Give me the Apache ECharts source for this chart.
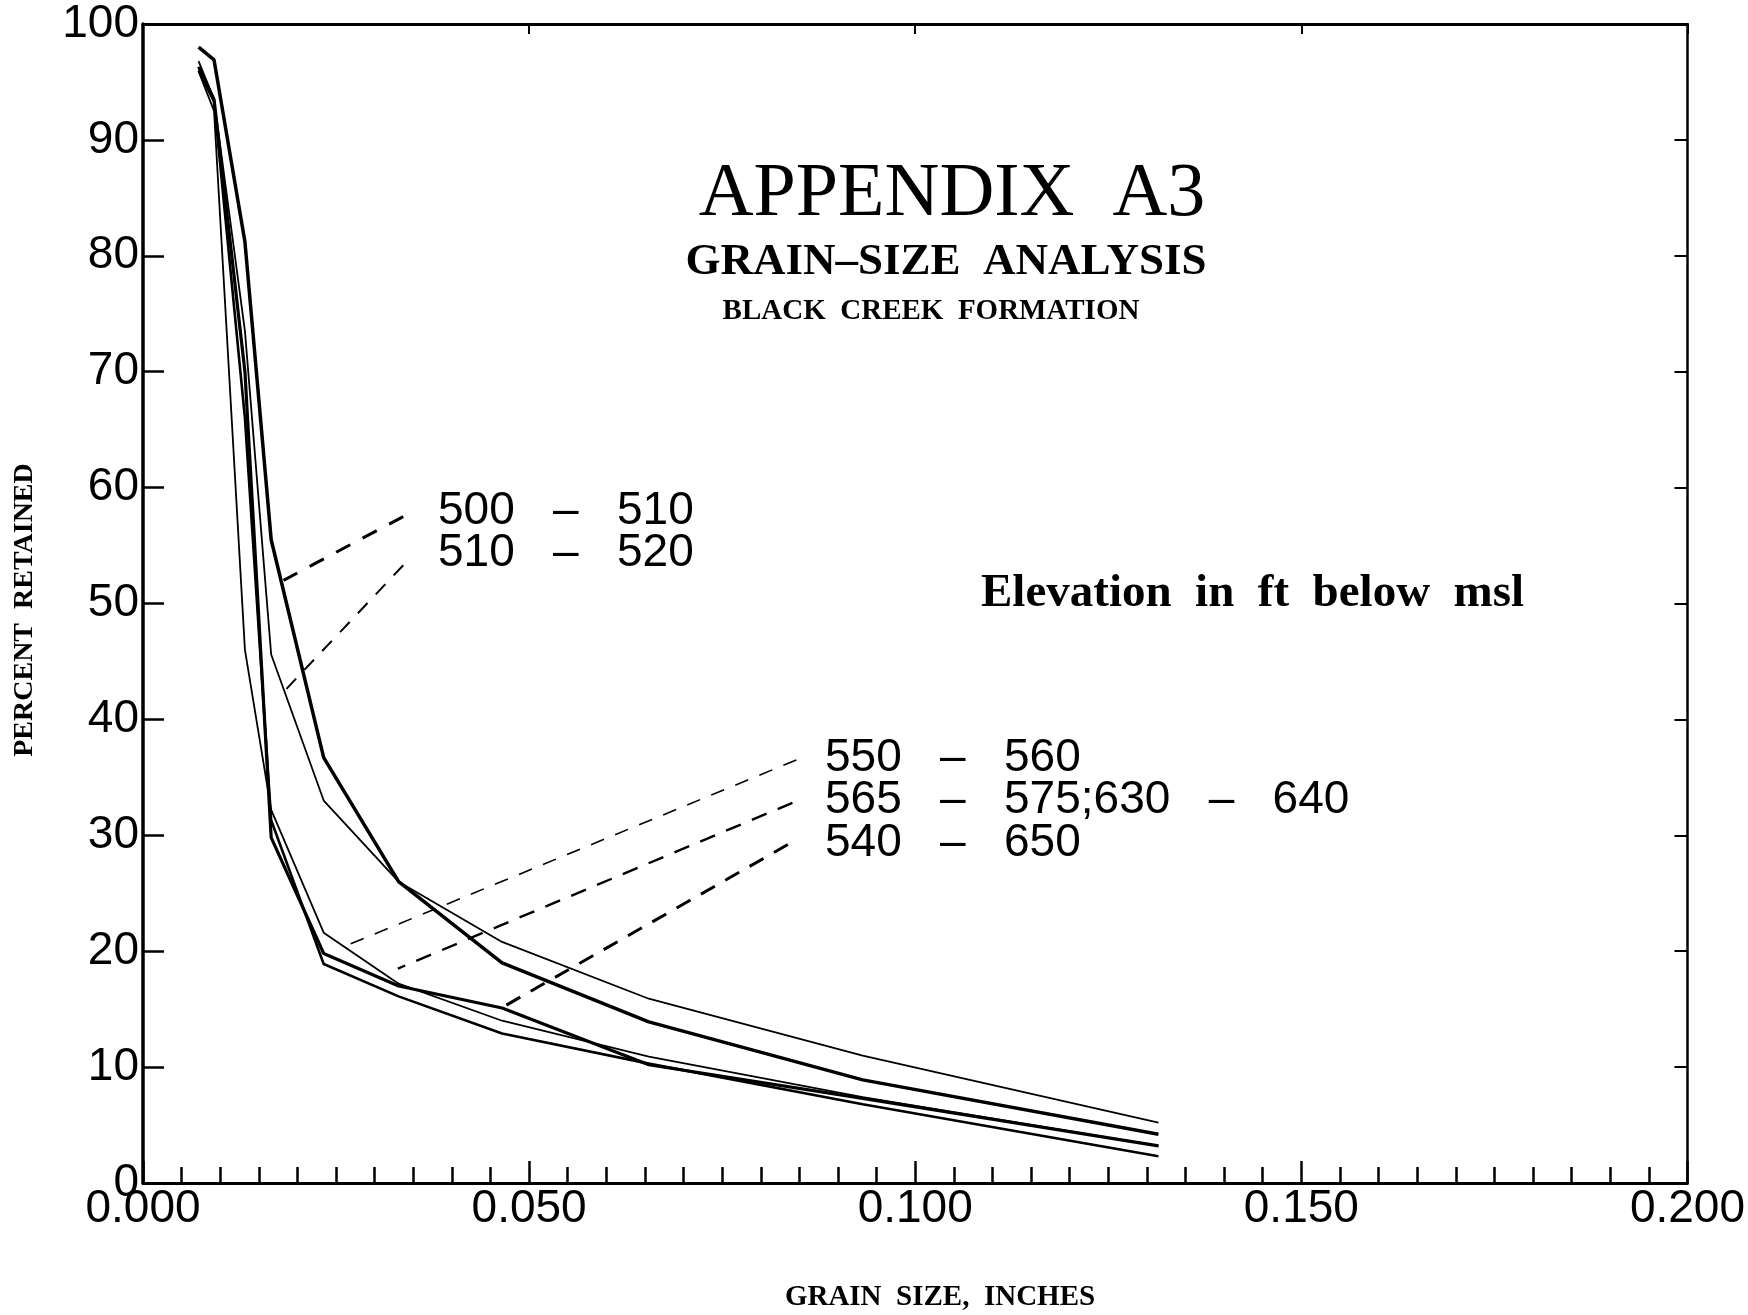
<!DOCTYPE html>
<html>
<head>
<meta charset="utf-8">
<script src="https://cdn.jsdelivr.net/npm/echarts@6/dist/echarts.min.js"></script>
<style>
html,body{margin:0;padding:0;background:#fff;}
#chart{width:1748px;height:1315px;}
</style>
</head>
<body>
<div id="chart"></div>
<script>
// Grain size (inches) of the sieve points
const grainSize = [0.0072, 0.0092, 0.0132, 0.0166, 0.0234, 0.0331, 0.0465, 0.0655, 0.0932, 0.1315];
// Percent retained per sample (elevation interval, ft below msl)
const pct500_510 = [98.0, 96.9, 81.2, 55.5, 36.7, 26.0, 19.0, 13.9, 8.9, 4.2];
const pct510_520 = [96.8, 93.5, 73.5, 45.6, 33.0, 26.0, 20.8, 15.9, 11.0, 5.2];
const pct550_560 = [95.9, 92.5, 46.0, 32.2, 21.6, 17.2, 14.0, 10.9, 7.4, 3.2];
const pct565_640 = [96.0, 93.3, 66.0, 31.3, 18.9, 16.1, 12.9, 10.3, 6.8, 2.3];
const pct540_650 = [96.3, 93.5, 70.0, 29.8, 19.8, 17.0, 15.1, 10.2, 7.3, 3.2];

// Leader lines (data units): [labelEnd, curveEnd]
const leader500_510 = [[0.0337, 57.5], [0.0182, 52.0]];
const leader510_520 = [[0.0337, 53.3], [0.0181, 42.3]];
const leader550_560 = [[0.0846, 36.5], [0.0264, 20.5]];
const leader565_640 = [[0.0841, 32.8], [0.0330, 18.5]];
const leader540_650 = [[0.0835, 29.2], [0.0464, 15.1]];

// Axis ticks
const xTickMin = 0, xTickMax = 0.2, xTickStep = 0.05;
const yTickMin = 0, yTickMax = 100, yTickStep = 10;

const sampleLabels = ['500 – 510', '510 – 520', '550 – 560', '565 – 575;630 – 640', '540 – 650'];

function pairs(xs, ys) { return xs.map((x, i) => [x, ys[i]]); }

const chart = echarts.init(document.getElementById('chart'), null, {renderer: 'canvas'});
const black = '#000';
const tickFont = 'Liberation Sans, Arial, sans-serif';
const serif = 'Liberation Serif, Times New Roman, serif';

function curve(name, ys, w) {
  return {
    name: name, type: 'line', data: pairs(grainSize, ys), showSymbol: false, symbol: 'none',
    lineStyle: {color: black, width: w}, silent: true, animation: false, z: 3
  };
}
function leader(pts, w, dash) {
  return {
    type: 'line', data: pts, showSymbol: false, symbol: 'none',
    lineStyle: {color: black, width: w, type: dash}, silent: true, animation: false, z: 2
  };
}

const option = {
  backgroundColor: '#fff',
  animation: false,
  grid: {left: 143, right: 54, top: 24, bottom: 132, containLabel: false},
  xAxis: [
    {
      type: 'value', min: xTickMin, max: xTickMax, interval: xTickStep, position: 'bottom',
      axisLine: {show: true, onZero: false, lineStyle: {color: black, width: 3}},
      axisTick: {show: true, inside: true, length: 22, lineStyle: {color: black, width: 2.5}},
      minorTick: {show: true, splitNumber: 10, length: 16, lineStyle: {color: black, width: 2.5}},
      splitLine: {show: false},
      axisLabel: {formatter: v => v.toFixed(3), fontSize: 46, fontFamily: tickFont, color: black, margin: 3}
    },
    {
      type: 'value', min: xTickMin, max: xTickMax, interval: xTickStep, position: 'top',
      axisLine: {show: true, onZero: false, lineStyle: {color: black, width: 3}},
      axisTick: {show: true, inside: true, length: 10, lineStyle: {color: black, width: 2}},
      splitLine: {show: false}, axisLabel: {show: false}
    }
  ],
  yAxis: [
    {
      type: 'value', min: yTickMin, max: yTickMax, interval: yTickStep, position: 'left',
      axisLine: {show: true, onZero: false, lineStyle: {color: black, width: 3.5}},
      axisTick: {show: true, inside: true, length: 21, lineStyle: {color: black, width: 2.5}},
      splitLine: {show: false},
      axisLabel: {fontSize: 46, fontFamily: tickFont, color: black, margin: 4}
    },
    {
      type: 'value', min: yTickMin, max: yTickMax, interval: yTickStep, position: 'right',
      axisLine: {show: true, onZero: false, lineStyle: {color: black, width: 2.5}},
      axisTick: {show: true, inside: true, length: 13, lineStyle: {color: black, width: 2}},
      splitLine: {show: false}, axisLabel: {show: false}
    }
  ],
  series: [
    curve(sampleLabels[0], pct500_510, 3.5),
    curve(sampleLabels[1], pct510_520, 1.8),
    curve(sampleLabels[2], pct550_560, 1.8),
    curve(sampleLabels[3], pct565_640, 2.6),
    curve(sampleLabels[4], pct540_650, 3.2),
    leader(leader500_510, 3, [16, 14]),
    leader(leader510_520, 2, [14, 12]),
    leader(leader550_560, 1.6, [14, 12]),
    leader(leader565_640, 2.4, [16, 12]),
    leader(leader540_650, 3, [16, 12])
  ],
  graphic: [
    {type: 'text', x: 952, y: 195, style: {text: 'APPENDIX  A3', font: 'normal 76px ' + serif, fill: black, textAlign: 'center', textVerticalAlign: 'middle'}},
    {type: 'text', x: 946, y: 262, style: {text: 'GRAIN–SIZE  ANALYSIS', font: 'bold 45px ' + serif, fill: black, textAlign: 'center', textVerticalAlign: 'middle'}},
    {type: 'text', x: 931, y: 312, style: {text: 'BLACK  CREEK  FORMATION', font: 'bold 29px ' + serif, fill: black, textAlign: 'center', textVerticalAlign: 'middle'}},
    {type: 'text', x: 981, y: 594, style: {text: 'Elevation  in  ft  below  msl', font: 'bold 47px ' + serif, fill: black, textAlign: 'left', textVerticalAlign: 'middle'}},
    {type: 'text', x: 438, y: 511, style: {text: '500   –   510', font: 'normal 46px ' + tickFont, fill: black, textAlign: 'left', textVerticalAlign: 'middle'}},
    {type: 'text', x: 438, y: 553, style: {text: '510   –   520', font: 'normal 46px ' + tickFont, fill: black, textAlign: 'left', textVerticalAlign: 'middle'}},
    {type: 'text', x: 825, y: 758, style: {text: '550   –   560', font: 'normal 46px ' + tickFont, fill: black, textAlign: 'left', textVerticalAlign: 'middle'}},
    {type: 'text', x: 825, y: 800, style: {text: '565   –   575;630   –   640', font: 'normal 46px ' + tickFont, fill: black, textAlign: 'left', textVerticalAlign: 'middle'}},
    {type: 'text', x: 825, y: 843, style: {text: '540   –   650', font: 'normal 46px ' + tickFont, fill: black, textAlign: 'left', textVerticalAlign: 'middle'}},
    {type: 'text', x: 25, y: 610, rotation: Math.PI / 2, style: {text: 'PERCENT  RETAINED', font: 'bold 28px ' + serif, fill: black, textAlign: 'center', textVerticalAlign: 'middle'}},
    {type: 'text', x: 940, y: 1298, style: {text: 'GRAIN  SIZE,  INCHES', font: 'bold 29px ' + serif, fill: black, textAlign: 'center', textVerticalAlign: 'middle'}}
  ]
};
chart.setOption(option);
</script>
</body>
</html>
